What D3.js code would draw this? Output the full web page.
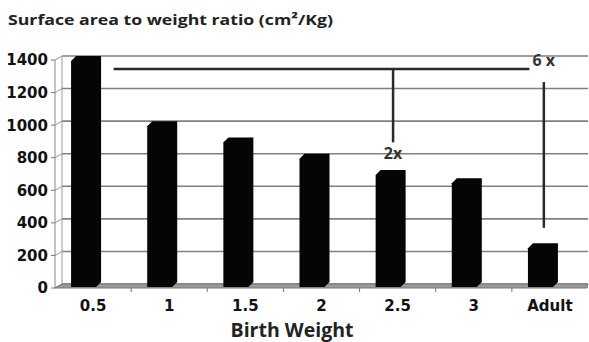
<!DOCTYPE html>
<html>
<head>
<meta charset="utf-8">
<title>Surface area to weight ratio</title>
<script src="https://cdn.jsdelivr.net/npm/d3@7/dist/d3.min.js"></script>
<style>
  body { margin: 0; background: #fff; }
  .tick-label { font-family: "DejaVu Sans", sans-serif; font-weight: bold; font-size: 15px; fill: #111; }
  .title { font-family: "Open Sans", sans-serif; font-weight: bold; font-size: 15px; fill: #222; }
  .x-title { font-family: "Open Sans", sans-serif; font-weight: bold; font-size: 19.5px; fill: #222; }
  .note { font-family: "Open Sans", sans-serif; font-weight: bold; font-size: 16px; fill: #333; }
</style>
</head>
<body>
<div id="viz"></div>
<script>
// DATA
var categories = ["0.5", "1", "1.5", "2", "2.5", "3", "Adult"];
var ratios = [1400, 1000, 900, 800, 700, 650, 250];
var yTicks = [0, 200, 400, 600, 800, 1000, 1200, 1400];

// annotation lines, in category index (x) and ratio units (y)
var hLine = { x1: 0.77, x2: 6.23, y: 1320 };
var vLines = [
  { x: 4.44, y1: 1320, y2: 870 },
  { x: 6.42, y1: 1240, y2: 345 }
];
var notes = [
  { x: 4.44, y: 770, text: "2x", anchor: "middle" },
  { x: 6.27, y: 1340, text: "6 x", anchor: "start" }
];

// Dimensions
var w = 589, h = 342;
var x0 = 55, x1 = 588;      // front axis extent
var dx = 7, dy = -4;         // depth of the 3d wall

var svg = d3.select("#viz").append("svg")
  .attr("width", w)
  .attr("height", h);

// SCALES
var x = d3.scaleBand().domain(categories).range([x0, x1]);
var xi = d3.scaleLinear().domain([0, categories.length]).range([x0, x1]);
var y = d3.scaleLinear().domain([0, 1400]).range([288, 60]);   // front plane

// back wall gridlines with their little diagonal to the front axis
var grid = svg.append("g");
grid.selectAll("line.h")
  .data(yTicks)
  .enter()
  .append("line")
  .attr("x1", x0 + dx).attr("x2", x1)
  .attr("y1", function(d){ return y(d) + dy; })
  .attr("y2", function(d){ return y(d) + dy; })
  .attr("stroke", "#808080")
  .attr("stroke-width", 1.6);

grid.selectAll("line.d")
  .data(yTicks)
  .enter()
  .append("line")
  .attr("x1", x0).attr("x2", x0 + dx)
  .attr("y1", function(d){ return y(d); })
  .attr("y2", function(d){ return y(d) + dy; })
  .attr("stroke", "#999")
  .attr("stroke-width", 1);

// back wall edge and front axis
grid.append("line")
  .attr("x1", x0 + dx).attr("x2", x0 + dx)
  .attr("y1", y(1400) + dy).attr("y2", y(0) + dy)
  .attr("stroke", "#999");
grid.append("line")
  .attr("x1", x0).attr("x2", x0)
  .attr("y1", y(1400)).attr("y2", y(0))
  .attr("stroke", "#888");

// floor
svg.append("path")
  .attr("d", "M" + x0 + "," + y(0) + "L" + (x0 + dx) + "," + (y(0) + dy) +
             "L" + x1 + "," + (y(0) + dy) + "L" + (x1 - 1) + "," + y(0) + "Z")
  .attr("fill", "#9a9a9a")
  .attr("stroke", "#777")
  .attr("stroke-width", 1);

// Y axis ticks and labels
var yAxis = svg.append("g");
yAxis.selectAll("line")
  .data(yTicks)
  .enter()
  .append("line")
  .attr("x1", x0 - 4).attr("x2", x0)
  .attr("y1", function(d){ return y(d); })
  .attr("y2", function(d){ return y(d); })
  .attr("stroke", "#777");
yAxis.selectAll("text")
  .data(yTicks)
  .enter()
  .append("text")
  .attr("class", "tick-label")
  .attr("x", 48)
  .attr("y", function(d){ return y(d); })
  .attr("dy", "0.36em")
  .attr("text-anchor", "end")
  .text(function(d){ return d; });

// X axis ticks and labels
var xAxis = svg.append("g");
xAxis.selectAll("line")
  .data(categories.slice(1))
  .enter()
  .append("line")
  .attr("x1", function(d){ return x(d); })
  .attr("x2", function(d){ return x(d); })
  .attr("y1", y(0)).attr("y2", y(0) + 4)
  .attr("stroke", "#777");
xAxis.selectAll("text")
  .data(categories)
  .enter()
  .append("text")
  .attr("class", "tick-label")
  .attr("x", function(d){ return x(d) + x.bandwidth() / 2; })
  .attr("y", 311)
  .attr("text-anchor", "middle")
  .text(function(d){ return d; });

// BARS (3d columns, chamfered top-left / bottom-right)
var bw = 30, c = 5;
svg.append("g").selectAll("path")
  .data(categories)
  .enter()
  .append("path")
  .attr("d", function(d, i){
    var left = x(d) + x.bandwidth() / 2 - 7 - bw / 2,
        right = left + bw,
        top = y(ratios[i]) + dy,
        bottom = y(0) - 1;
    var p = d3.path();
    p.moveTo(left, top + c);
    p.lineTo(left + c, top);
    p.lineTo(right, top);
    p.lineTo(right, bottom - c);
    p.lineTo(right - c, bottom);
    p.lineTo(left, bottom);
    p.closePath();
    return p.toString();
  })
  .attr("fill", "#050505");

// ANNOTATIONS
var notesG = svg.append("g");
notesG.append("line")
  .attr("x1", xi(hLine.x1)).attr("x2", xi(hLine.x2))
  .attr("y1", y(hLine.y) + dy).attr("y2", y(hLine.y) + dy)
  .attr("stroke", "#2a2a2a")
  .attr("stroke-width", 2.5);
notesG.selectAll("line.v")
  .data(vLines)
  .enter()
  .append("line")
  .attr("x1", function(d){ return xi(d.x); })
  .attr("x2", function(d){ return xi(d.x); })
  .attr("y1", function(d){ return y(d.y1) + dy; })
  .attr("y2", function(d){ return y(d.y2) + dy; })
  .attr("stroke", "#2a2a2a")
  .attr("stroke-width", 2.5);
notesG.selectAll("text")
  .data(notes)
  .enter()
  .append("text")
  .attr("class", "note")
  .attr("x", function(d){ return xi(d.x); })
  .attr("y", function(d){ return y(d.y) + dy; })
  .attr("text-anchor", function(d){ return d.anchor; })
  .text(function(d){ return d.text; });

// TITLES
svg.append("text")
  .attr("class", "title")
  .attr("x", 8)
  .attr("y", 25)
  .attr("textLength", 325)
  .attr("lengthAdjust", "spacingAndGlyphs")
  .text("Surface area to weight ratio (cm\u00b2/Kg)");

svg.append("text")
  .attr("class", "x-title")
  .attr("x", 292)
  .attr("y", 337)
  .attr("text-anchor", "middle")
  .text("Birth Weight");
</script>
</body>
</html>
